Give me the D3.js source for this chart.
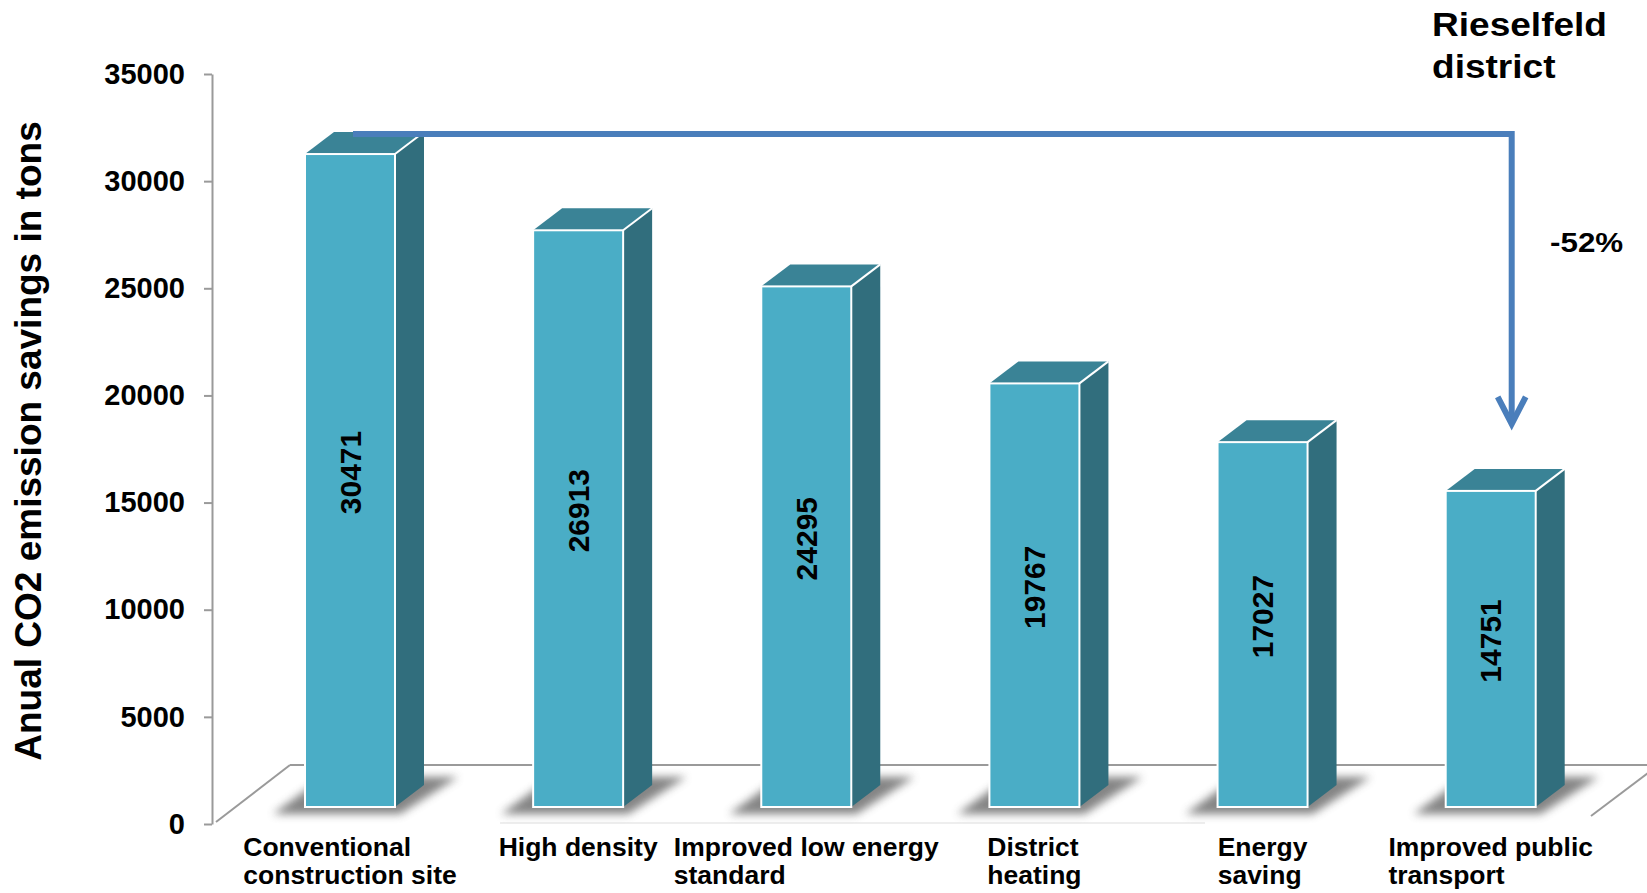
<!DOCTYPE html>
<html>
<head>
<meta charset="utf-8">
<script src="https://cdn.jsdelivr.net/npm/d3@7"></script>
<style>
  body { margin: 0; background: #fff; }
  text { font-family: 'Liberation Sans', Arial, sans-serif; font-weight: bold; fill: #000; }
</style>
</head>
<body>
<div id="chart"></div>
<script>
// data
const categories = ['Conventional construction site', 'High density', 'Improved low energy standard',
  'District heating', 'Energy saving', 'Improved public transport']
const categoryLines = [['Conventional', 'construction site'], ['High density'], ['Improved low energy', 'standard'],
  ['District', 'heating'], ['Energy', 'saving'], ['Improved public', 'transport']]
const savings = [30471, 26913, 24295, 19767, 17027, 14751]
const yTicks = [0, 5000, 10000, 15000, 20000, 25000, 30000, 35000]
const yTitle = 'Anual CO2 emission savings in tons'
const districtTitle = ['Rieselfeld', 'district']
const reductionLabel = '-52%'

let width = 1647,
    height = 893

let svg = d3.select('#chart').append('svg')
    .attr('width', width)
    .attr('height', height)

let defs = svg.append('defs')
defs.append('filter')
    .attr('id', 'shadow-blur')
    .attr('x', '-30%').attr('y', '-60%')
    .attr('width', '160%').attr('height', '220%')
    .append('feGaussianBlur').attr('stdDeviation', 4.5)

// axis scale (front of the floor) and bar scale (bars stand a bit behind it)
let axisX = 212
let y = d3.scaleLinear().domain([0, 35000]).range([824, 74])
let inset = 17
let barY = v => y(v) - inset

let x = d3.scalePoint().domain(categories).range([350, 1490.7])
let barW = 90,
    depthX = 29,
    depthY = 22

// floor
let floorFront = y(0) - 2,
    floorBack = 765
let floor = svg.append('g').attr('class', 'floor')
    .attr('stroke', '#9a9a9a').attr('stroke-width', 2).attr('fill', 'none')
floor.append('line')
    .attr('x1', axisX + 4).attr('y1', floorFront)
    .attr('x2', 290).attr('y2', floorBack)
floor.append('line')
    .attr('x1', 290).attr('y1', floorBack)
    .attr('x2', width).attr('y2', floorBack)
floor.append('line')
    .attr('x1', 1591).attr('y1', floorFront - 6)
    .attr('x2', 1660).attr('y2', floorBack - 1)
floor.append('line')
    .attr('x1', 500).attr('y1', floorFront + 1)
    .attr('x2', 1205).attr('y2', floorFront + 1)
    .attr('stroke', '#e8e8e8').attr('stroke-width', 1.5)

// y axis
let yAxis = g => g
    .attr('transform', `translate(${axisX},0)`)
    .call(d3.axisLeft(y).tickValues(yTicks).tickFormat(d3.format('d')).tickSize(8).tickSizeOuter(0).tickPadding(19))
    .call(g => g.selectAll('path, line').attr('stroke', '#9a9a9a').attr('stroke-width', 2))
    .call(g => g.selectAll('text')
        .attr('font-size', 29)
        .attr('font-family', "'Liberation Sans', Arial, sans-serif")
        .attr('font-weight', 'bold')
        .attr('fill', '#000'))

svg.append('g').call(yAxis)

svg.append('text')
    .attr('transform', 'translate(28,441) rotate(-90)')
    .attr('text-anchor', 'middle')
    .attr('dominant-baseline', 'central')
    .attr('font-size', 37)
    .text(yTitle)

let rows = categories.map((c, i) => ({ name: c, value: savings[i], lines: categoryLines[i] }))

// shadows under the bars
svg.append('g').selectAll('polygon')
    .data(rows)
    .enter().append('polygon')
    .attr('points', d => {
        let L = x(d.name) - barW / 2,
            B = barY(0)
        return [[L - 32, B + 7], [L + barW + 5, B + 7], [L + barW + depthX + 34, B - depthY - 8], [L + depthX - 10, B - depthY - 8]].join(' ')
    })
    .attr('fill', '#707070')
    .attr('opacity', 0.85)
    .attr('filter', 'url(#shadow-blur)')

// 3d bars
let bars = svg.append('g').selectAll('.bar')
    .data(rows)
    .enter().append('g')
    .attr('class', 'bar')

bars.append('polygon')
    .attr('points', d => {
        let R = x(d.name) + barW / 2, T = barY(d.value), B = barY(0)
        return [[R, T], [R + depthX, T - depthY], [R + depthX, B - depthY], [R, B]].join(' ')
    })
    .attr('fill', '#316e7d')

bars.append('polygon')
    .attr('points', d => {
        let L = x(d.name) - barW / 2, R = L + barW, T = barY(d.value)
        return [[L, T], [L + depthX, T - depthY], [R + depthX, T - depthY], [R, T]].join(' ')
    })
    .attr('fill', '#3a8396')

bars.append('line')
    .attr('x1', d => x(d.name) + barW / 2)
    .attr('y1', d => barY(d.value))
    .attr('x2', d => x(d.name) + barW / 2 + depthX)
    .attr('y2', d => barY(d.value) - depthY)
    .attr('stroke', '#fff').attr('stroke-width', 2)

bars.append('rect')
    .attr('x', d => x(d.name) - barW / 2)
    .attr('y', d => barY(d.value))
    .attr('width', barW)
    .attr('height', d => barY(0) - barY(d.value))
    .attr('fill', '#4aadc6')
    .attr('stroke', '#fff')
    .attr('stroke-width', 2)

bars.append('text')
    .attr('transform', d => `translate(${x(d.name)},${(barY(d.value) + barY(0)) / 2 - 8}) rotate(-90)`)
    .attr('text-anchor', 'middle')
    .attr('dominant-baseline', 'central')
    .attr('font-size', 30)
    .text(d => d.value)

// category labels, left aligned blocks centred under each bar
let stretch = 1.06
let catLabels = svg.append('g').selectAll('.cat')
    .data(rows)
    .enter().append('g')
    .attr('class', 'cat')
    .attr('transform', d => `translate(${x(d.name)},856) scale(${stretch},1)`)

catLabels.each(function (d) {
    let g = d3.select(this)
    let texts = d.lines.map((l, k) => g.append('text')
        .attr('y', k * 28.5)
        .attr('font-size', 25)
        .text(l))
    let w = d3.max(texts, t => t.node().getComputedTextLength())
    texts.forEach(t => t.attr('x', -w / 2))
})

// reduction arrow
let arrowY = barY(d3.max(savings)) - depthY + 2,
    arrowX0 = x(categories[0]) + 3,
    arrowX1 = x(categories[categories.length - 1]) + 21,
    arrowTip = barY(d3.min(savings)) - depthY - 45
let arrow = svg.append('g')
    .attr('stroke', '#4a7ebb').attr('stroke-width', 6).attr('fill', 'none')
arrow.append('path')
    .attr('d', `M${arrowX0},${arrowY} H${arrowX1} V${arrowTip - 2}`)
    .attr('stroke-linejoin', 'miter')
arrow.append('path')
    .attr('d', `M${arrowX1 - 14},${arrowTip - 27} L${arrowX1},${arrowTip} L${arrowX1 + 14},${arrowTip - 27}`)
    .attr('stroke-linejoin', 'miter')

// annotations
let note = svg.append('g')
    .attr('transform', `translate(1432,36) scale(1.09,1)`)
districtTitle.forEach((t, k) => {
    note.append('text')
        .attr('y', k * 42)
        .attr('font-size', 34)
        .text(t)
})

svg.append('text')
    .attr('transform', `translate(1550,252) scale(1.12,1)`)
    .attr('font-size', 28)
    .text(reductionLabel)
</script>
</body>
</html>
